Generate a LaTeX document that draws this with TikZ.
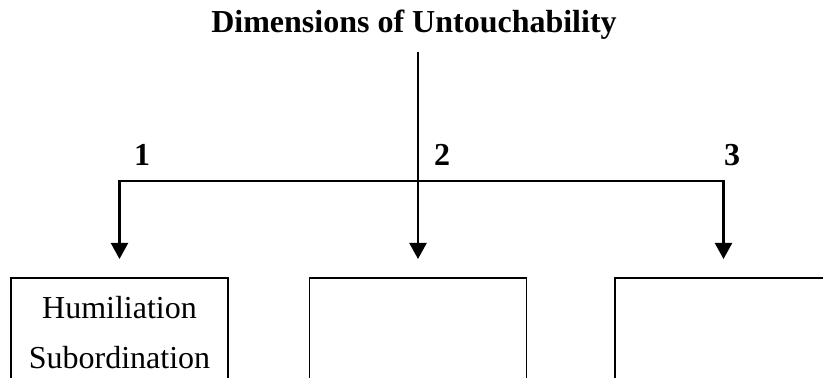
\documentclass[tikz,border=0pt]{standalone}
\usepackage{fontspec}
\setmainfont{Liberation Serif}
\usetikzlibrary{arrows.meta,positioning}

\begin{document}
\begin{tikzpicture}[x=0.5pt, y=-0.5pt,
  every node/.style={font=\fontsize{16}{25}\selectfont},
  heading/.style={font=\fontsize{16}{19}\selectfont\bfseries, anchor=base, inner sep=0pt},
  dimbox/.style={draw, line width=0.9pt, minimum width=108.5pt, minimum height=75pt, anchor=north},
  link/.style={line width=1.1pt},
  linkarrow/.style={link, -{Triangle[width=8.5pt,length=8pt]}, shorten >=9pt}]
% page frame
\useasboundingbox (0,0) rectangle (823,378);
\clip (0,0) rectangle (823,378);

% heading and branch numbers
\node[heading] (title) at (414,33) {Dimensions of Untouchability};
\node[heading] (num1) at (142,166) {1};
\node[heading] (num2) at (442,166) {2};
\node[heading] (num3) at (732,166) {3};

\coordinate (stem) at (418,52);
\coordinate (fork) at (418,181);

% the three boxes (cut off at the bottom)
\node[dimbox] (box1) at (119.5,277) {};
\node[dimbox] (box2) at (418,277) {};
\node[dimbox] (box3) at (723.5,277) {};
\node[align=center, anchor=north, inner sep=0pt] (box1text) at (119.5,296) {Humiliation\\Subordination};

% connectors
\draw[linkarrow] (stem) -- (box2.north);
\draw[linkarrow] (fork) -| (box1.north);
\draw[linkarrow] (fork) -| (box3.north);
\end{tikzpicture}
\end{document}
